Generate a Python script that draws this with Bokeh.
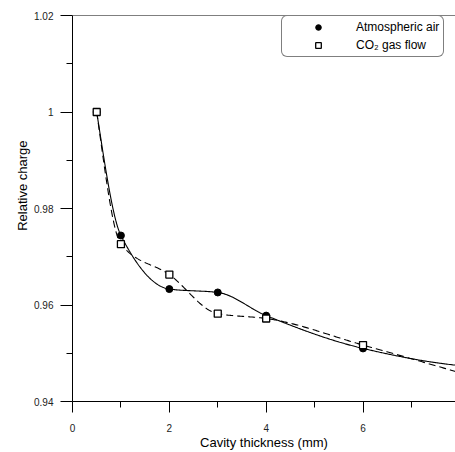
import numpy as np
from bokeh.plotting import figure
from bokeh.models import FixedTicker, Span, Legend, LegendItem, Title
from bokeh.embed import file_html
from bokeh.resources import INLINE

thickness = [0.5, 1, 2, 3, 4, 6]
air = [1.0, 0.9744, 0.9633, 0.9626, 0.9578, 0.9510]
co2 = [1.0, 0.9726, 0.9663, 0.9582, 0.9572, 0.9517]
curve_end_x = 7.95
air_curve_end = 0.9475
co2_curve_end = 0.9461

x_ticks = [0, 2, 4, 6]
x_minor = [1, 3, 5, 7]
y_ticks = [0.94, 0.96, 0.98, 1.0, 1.02]
y_minor = [0.95, 0.97, 0.99, 1.01]
y_tick_labels = ["0.94", "0.96", "0.98", "1", "1.02"]


def pchip(x, y, xs):
    x = np.asarray(x, float)
    y = np.asarray(y, float)
    n = len(x)
    h = np.diff(x)
    d = np.diff(y) / h
    m = np.zeros(n)
    for k in range(1, n - 1):
        if d[k - 1] * d[k] <= 0:
            m[k] = 0.0
        else:
            w1 = 2 * h[k] + h[k - 1]
            w2 = h[k] + 2 * h[k - 1]
            m[k] = (w1 + w2) / (w1 / d[k - 1] + w2 / d[k])

    def end(h0, h1, d0, d1):
        mm = ((2 * h0 + h1) * d0 - h0 * d1) / (h0 + h1)
        if np.sign(mm) != np.sign(d0):
            mm = 0.0
        elif np.sign(d0) != np.sign(d1) and abs(mm) > abs(3 * d0):
            mm = 3 * d0
        return mm

    m[0] = end(h[0], h[1], d[0], d[1])
    m[-1] = end(h[-1], h[-2], d[-1], d[-2])
    xs = np.asarray(xs, float)
    idx = np.clip(np.searchsorted(x, xs) - 1, 0, n - 2)
    t = (xs - x[idx]) / h[idx]
    h00 = 2 * t**3 - 3 * t**2 + 1
    h10 = t**3 - 2 * t**2 + t
    h01 = -2 * t**3 + 3 * t**2
    h11 = t**3 - t**2
    return h00 * y[idx] + h10 * h[idx] * m[idx] + h01 * y[idx + 1] + h11 * h[idx] * m[idx + 1]


xs = np.linspace(thickness[0], curve_end_x, 400)
air_curve = pchip(thickness + [curve_end_x], air + [air_curve_end], xs)
co2_curve = pchip(thickness + [curve_end_x], co2 + [co2_curve_end], xs)

p = figure(width=455, height=452, output_backend="svg", toolbar_location=None,
           x_range=(0, 7.91), y_range=(0.94, 1.02))
p.min_border_left = 72
p.min_border_right = 0
p.min_border_top = 15
p.min_border_bottom = 50
p.outline_line_color = None
p.xgrid.visible = False
p.ygrid.visible = False
p.background_fill_color = "white"
p.border_fill_color = "white"

p.add_layout(Span(location=1.02, dimension="width", line_color="black", line_width=1))

l1 = p.line(xs, air_curve, line_color="black", line_width=1.1)
l2 = p.line(xs, co2_curve, line_color="black", line_width=1.1, line_dash="7 4")
r1 = p.scatter(thickness, air, marker="circle", size=7, fill_color="black", line_color="black")
r2 = p.scatter(thickness, co2, marker="square", size=7, fill_color="white",
               line_color="black", line_width=1.3)

for ax in (p.xaxis[0], p.yaxis[0]):
    ax.axis_line_color = "black"
    ax.axis_line_width = 1
    ax.major_tick_in = 0
    ax.minor_tick_in = 0
    ax.major_tick_line_color = "black"
    ax.minor_tick_line_color = "black"
    ax.major_label_text_font = "Liberation Sans"
    ax.major_label_text_font_size = "10px"
    ax.major_label_text_color = "#222222"
    ax.axis_label_text_font = "Liberation Sans"
    ax.axis_label_text_font_size = "13px"
    ax.axis_label_text_font_style = "normal"
    ax.axis_label_text_color = "black"

p.xaxis.ticker = FixedTicker(ticks=x_ticks, minor_ticks=x_minor)
p.yaxis.ticker = FixedTicker(ticks=y_ticks, minor_ticks=y_minor)
p.yaxis.major_label_overrides = dict(zip(y_ticks, y_tick_labels))
p.xaxis.major_tick_out = 11
p.xaxis.minor_tick_out = 6
p.yaxis.major_tick_out = 12
p.yaxis.minor_tick_out = 6
p.xaxis.major_label_standoff = 11
p.yaxis.major_label_standoff = 7
p.xaxis.axis_label = "Cavity thickness (mm)"
p.xaxis.axis_label_standoff = 0

ytitle = Title(text="Relative charge", align="right", offset=125,
               text_font="Liberation Sans", text_font_size="13px",
               text_font_style="normal", text_color="black", standoff=4)
p.add_layout(ytitle, "left")

legend = Legend(items=[LegendItem(label="Atmospheric air", renderers=[r1]),
                       LegendItem(label="CO\u2082 gas flow", renderers=[r2])],
                location=(209, 344))
legend.padding = 4
legend.spacing = 4
legend.margin = 0
legend.glyph_width = 64
legend.glyph_height = 14
legend.label_height = 14
legend.label_width = 20
legend.label_standoff = 6
legend.label_text_font = "Liberation Sans"
legend.label_text_font_size = "12px"
legend.label_text_color = "black"
legend.border_line_color = "black"
legend.border_line_width = 1
legend.background_fill_color = "white"
legend.background_fill_alpha = 1
if "border_radius" in Legend.properties():
    legend.border_radius = 6
p.add_layout(legend)

open("out.html", "w").write(file_html(p, INLINE))
